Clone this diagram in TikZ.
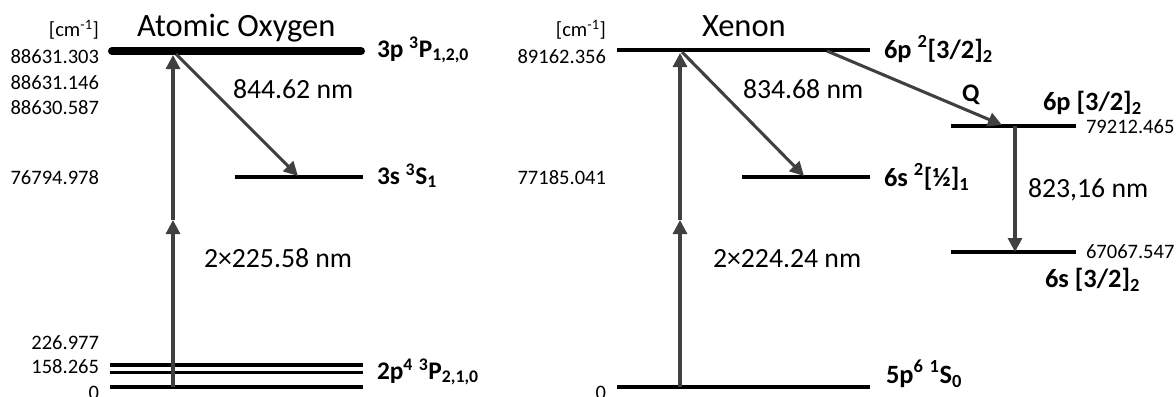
\documentclass[tikz,border=0pt]{standalone}
\usepackage{fontspec}
\setmainfont{Carlito}
\usetikzlibrary{arrows.meta}
\newcommand\numf{\fontsize{15.4pt}{18pt}\selectfont}
\newcommand\nmf{\fontsize{20.8pt}{24pt}\selectfont}
\newcommand\titf{\fontsize{24.4pt}{28pt}\selectfont}
\newcommand\oxf{\fontsize{19pt}{23pt}\selectfont\bfseries}
\newcommand\xef{\fontsize{19.8pt}{23pt}\selectfont\bfseries}
\newcommand\up[1]{\textsuperscript{#1}}
\newcommand\dn[1]{\textsubscript{#1}}
\definecolor{arrgray}{HTML}{404040}
\begin{document}
\begin{tikzpicture}[x=0.75pt,y=-0.75pt,
  lvl/.style={draw=black,line width=2.4pt},
  thicklvl/.style={draw=black,line width=6pt,line cap=round},
  trans/.style={draw=arrgray,line width=2.3pt,-{Triangle[length=10.5pt,width=10.5pt]}},
  txt/.style={inner sep=0pt,outer sep=0pt}]
\useasboundingbox (0,0) rectangle (1176,396);

% ---------- Atomic Oxygen ----------
\coordinate (OtopL) at (112,51);   \coordinate (OtopR) at (361,51);
\coordinate (OsL) at (235,177);    \coordinate (OsR) at (363,177);
\coordinate (Og2L) at (110,365);   \coordinate (Og2R) at (363,365);
\coordinate (Og1L) at (110,372.5); \coordinate (Og1R) at (363,372.5);
\coordinate (Og0L) at (110,387);   \coordinate (Og0R) at (363,387);
\draw[thicklvl] (OtopL) -- (OtopR);
\draw[lvl] (OsL) -- (OsR);
\draw[lvl] (Og2L) -- (Og2R);
\draw[lvl] (Og1L) -- (Og1R);
\draw[lvl] (Og0L) -- (Og0R);

\coordinate (OvA) at (173,387); \coordinate (OvM) at (173,220); \coordinate (OvB) at (173,55);
\coordinate (OdA) at (176,54);  \coordinate (OdB) at (298,176);
\draw[trans] (OvA) -- (OvM);
\draw[trans] (OvM) -- (OvB);
\draw[trans] (OdA) -- (OdB);

\node[txt,anchor=base east] (Ounit) at (99,36) {\numf[cm\up{-1}]};
\node[txt,anchor=base west] (Otitle) at (137,36) {\titf Atomic Oxygen};
\node[txt,anchor=base east] (On1) at (99,63) {\numf 88631.303};
\node[txt,anchor=base east] (On2) at (99,89) {\numf 88631.146};
\node[txt,anchor=base east] (On3) at (99,114) {\numf 88630.587};
\node[txt,anchor=base east] (On4) at (99,184) {\numf 76794.978};
\node[txt,anchor=base east] (On5) at (99,349) {\numf 226.977};
\node[txt,anchor=base east] (On6) at (99,373) {\numf 158.265};
\node[txt,anchor=base east] (On7) at (99,399) {\numf 0};

\node[txt,anchor=base west] (Ol1) at (377,57) {\oxf 3p \up{3}P\dn{1,2,0}};
\node[txt,anchor=base west] (Ol2) at (377,184) {\oxf 3s \up{3}S\dn{1}};
\node[txt,anchor=base west] (Ol3) at (377,379) {\oxf 2p\up{4} \up{3}P\dn{2,1,0}};

\node[txt,anchor=base west] (Ow1) at (233,98) {\nmf 844.62 nm};
\node[txt,anchor=base west] (Ow2) at (204,267) {\nmf 2×225.58 nm};

% ---------- Xenon ----------
\coordinate (XtopL) at (617,50);  \coordinate (XtopR) at (870,50);
\coordinate (XsL) at (742,177);   \coordinate (XsR) at (870,177);
\coordinate (XgL) at (617,387);   \coordinate (XgR) at (870,387);
\coordinate (XpL) at (951,126);   \coordinate (XpR) at (1076,126);
\coordinate (XqL) at (951,252);   \coordinate (XqR) at (1076,252);
\draw[lvl] (XtopL) -- (XtopR);
\draw[lvl] (XsL) -- (XsR);
\draw[lvl] (XgL) -- (XgR);
\draw[lvl] (XpL) -- (XpR);
\draw[lvl] (XqL) -- (XqR);

\coordinate (XvA) at (680,387); \coordinate (XvM) at (680,220); \coordinate (XvB) at (680,53);
\coordinate (XdA) at (682,52);  \coordinate (XdB) at (804,176);
\coordinate (XQA) at (827,51);  \coordinate (XQB) at (1002,125);
\coordinate (XeA) at (1015,126); \coordinate (XeB) at (1015,252);
\draw[trans] (XvA) -- (XvM);
\draw[trans] (XvM) -- (XvB);
\draw[trans] (XdA) -- (XdB);
\draw[trans] (XQA) -- (XQB);
\draw[trans] (XeA) -- (XeB);

\node[txt,anchor=base east] (Xunit) at (606,36) {\numf[cm\up{-1}]};
\node[txt,anchor=base west] (Xtitle) at (702,36) {\titf Xenon};
\node[txt,anchor=base east] (Xn1) at (606,63) {\numf 89162.356};
\node[txt,anchor=base east] (Xn2) at (606,184) {\numf 77185.041};
\node[txt,anchor=base east] (Xn3) at (606,399) {\numf 0};
\node[txt,anchor=base west] (Xn4) at (1086,133) {\numf 79212.465};
\node[txt,anchor=base west] (Xn5) at (1086,258) {\numf 67067.547};

\node[txt,anchor=base west] (Xl1) at (884,58) {\xef 6p \up{2}[3/2]\dn{2}};
\node[txt,anchor=base west] (Xl2) at (884,186) {\xef 6s \up{2}[½]\dn{1}};
\node[txt,anchor=base west] (Xl3) at (886,383) {\xef 5p\up{6} \up{1}S\dn{0}};
\node[txt,anchor=base west] (Xl4) at (1043,110) {\xef 6p [3/2]\dn{2}};
\node[txt,anchor=base west] (Xl5) at (1045,287) {\xef 6s [3/2]\dn{2}};
\node[txt,anchor=base west] (XQ) at (962,101) {\oxf Q};

\node[txt,anchor=base west] (Xw1) at (743,98) {\nmf 834.68 nm};
\node[txt,anchor=base west] (Xw2) at (713,267) {\nmf 2×224.24 nm};
\node[txt,anchor=base west] (Xw3) at (1028,197) {\nmf 823,16 nm};
\end{tikzpicture}
\end{document}
